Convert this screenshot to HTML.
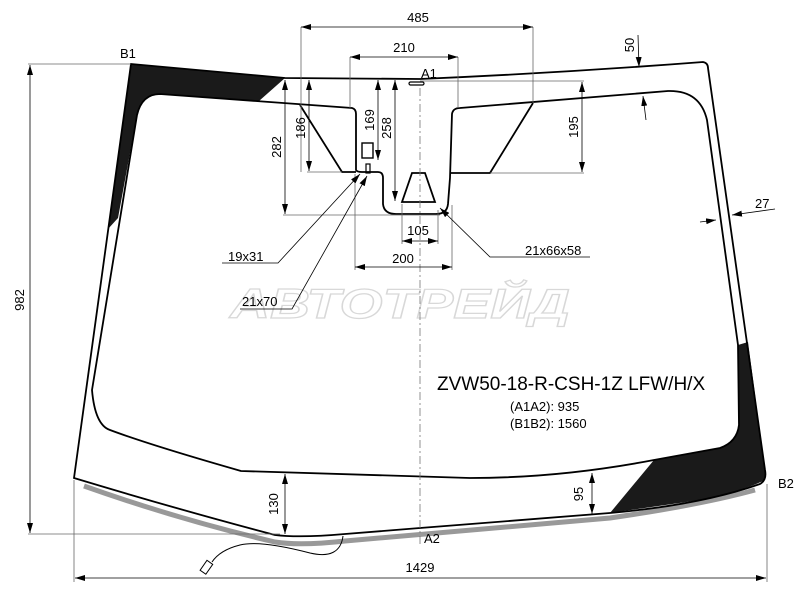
<!DOCTYPE html>
<html><head><meta charset="utf-8"><style>
html,body{margin:0;padding:0;background:#fff;}
svg{display:block;font-family:"Liberation Sans",Arial,sans-serif;}
</style></head><body>
<svg width="800" height="600" viewBox="0 0 800 600" xmlns="http://www.w3.org/2000/svg">
<defs>
<marker id="a" viewBox="0 0 10 6" refX="10" refY="3" markerWidth="10" markerHeight="6" orient="auto-start-reverse" markerUnits="userSpaceOnUse"><path d="M0,0 L10,3 L0,6 Z" fill="#000"/></marker>
</defs>
<rect width="800" height="600" fill="#fff"/>
<text x="400" y="318" text-anchor="middle" font-size="42" font-weight="bold" font-style="italic" fill="#fff" stroke="#d8d8d8" stroke-width="1.2" textLength="340" lengthAdjust="spacingAndGlyphs">АВТОТРЕЙД</text>
<path d="M84,486 Q180,520 275,542 Q300,546 345,541 L610,518 Q700,505 755,490" fill="none" stroke="#999" stroke-width="5"/>
<path d="M131,64 L285,78 L259,101 L160,94 Q142,94 137,115 L118,218 L108,229 Z" fill="#1a1a1a"/>
<path d="M748,342 L765,470 L765,480 Q740,492 700,500 L610,513 L654,460 L720,448 Q737,442 739,425 L738,345 Z" fill="#1a1a1a"/>
<g fill="none" stroke="#000" stroke-width="1.8">
<path d="M131,64 L285,78 L420,79 Q560,73 703,62 Q708,63 708,68 L765,470 Q767,480 760,484 Q700,505 610,513 L420,528 L345,534 Q300,538 275,535 Q180,510 74,478 Z"/>
<path d="M160,94 L352,108 Q356,109 356,114 L356,170 Q357,172 362,172 L378,172 Q383,172 383,178 L383,204 Q384,214 396,214 L436,214 Q447,214 448,204 L450,178 L452,114 Q453,108 460,108 L668,91 Q700,90 707,120 L738,345 L739,425 Q737,442 720,448 L654,460 Q560,478 470,478 L241,471 Q150,445 110,430 Q95,425 92,390 L137,115 Q142,94 160,94 Z"/>
<path d="M300,105 L342,172 L356,172"/>
<path d="M533,103 L490,173 L450,173"/>
<path d="M412,173 L425,173 L435,202 L402,202 Z"/>
<rect x="362" y="143" width="11" height="15" stroke-width="1.4"/>
<rect x="366" y="164" width="4" height="9" stroke-width="1.2"/>
<rect x="409" y="82" width="15" height="3" rx="1.5" stroke-width="1.2"/>
</g>
<line x1="420" y1="88" x2="420" y2="545" stroke="#777" stroke-width="0.8" stroke-dasharray="8,3,2,3"/>
<g fill="none" stroke="#666" stroke-width="0.8">
<line x1="301" y1="27" x2="301" y2="172"/><line x1="533" y1="27" x2="533" y2="103"/>
<line x1="350" y1="57" x2="350" y2="108"/><line x1="458" y1="57" x2="458" y2="108"/>
<line x1="283" y1="215" x2="440" y2="215"/>
<line x1="307" y1="172" x2="342" y2="172"/>
<line x1="420" y1="81" x2="584" y2="81"/><line x1="490" y1="173" x2="584" y2="173"/>
<line x1="355" y1="174" x2="355" y2="270"/><line x1="452" y1="205" x2="452" y2="270"/>
<line x1="402" y1="204" x2="402" y2="244"/><line x1="438" y1="210" x2="438" y2="244"/>
<line x1="28" y1="64" x2="131" y2="64"/><line x1="28" y1="534" x2="280" y2="534"/>
<line x1="74" y1="480" x2="74" y2="582"/><line x1="767" y1="484" x2="767" y2="582"/>
</g>
<g stroke="#000" stroke-width="0.8" fill="none">
<line x1="301" y1="27" x2="533" y2="27" marker-start="url(#a)" marker-end="url(#a)"/>
<line x1="350" y1="57" x2="458" y2="57" marker-start="url(#a)" marker-end="url(#a)"/>
<line x1="285" y1="80" x2="285" y2="214" marker-start="url(#a)" marker-end="url(#a)"/>
<line x1="309" y1="80" x2="309" y2="171" marker-start="url(#a)" marker-end="url(#a)"/>
<line x1="378" y1="80" x2="378" y2="160" marker-start="url(#a)" marker-end="url(#a)"/>
<line x1="395" y1="80" x2="395" y2="201" marker-start="url(#a)" marker-end="url(#a)"/>
<line x1="582" y1="82" x2="582" y2="172" marker-start="url(#a)" marker-end="url(#a)"/>
<line x1="402" y1="241" x2="438" y2="241" marker-start="url(#a)" marker-end="url(#a)"/>
<line x1="355" y1="267" x2="452" y2="267" marker-start="url(#a)" marker-end="url(#a)"/>
<line x1="30" y1="65" x2="30" y2="533" marker-start="url(#a)" marker-end="url(#a)"/>
<line x1="75" y1="578" x2="766" y2="578" marker-start="url(#a)" marker-end="url(#a)"/>
<line x1="285" y1="474" x2="285" y2="534" marker-start="url(#a)" marker-end="url(#a)"/>
<line x1="592" y1="473" x2="592" y2="514" marker-start="url(#a)" marker-end="url(#a)"/>
<line x1="638" y1="35" x2="639" y2="67" marker-end="url(#a)"/>
<line x1="646" y1="120" x2="643" y2="96" marker-end="url(#a)"/>
<line x1="700" y1="222" x2="716" y2="220" marker-end="url(#a)"/>
<line x1="775" y1="209" x2="732" y2="215" marker-end="url(#a)"/>
<polyline points="222,263 278,263 360,174" marker-end="url(#a)"/>
<polyline points="240,309 292,309 367,176" marker-end="url(#a)"/>
<polyline points="590,257 490,257 440,208" marker-end="url(#a)"/>
</g>
<path d="M343,536 Q340,560 310,553 Q260,540 240,545 Q220,550 212,562" fill="none" stroke="#000" stroke-width="1"/>
<rect x="203" y="561" width="7" height="12" transform="rotate(35 206 567)" fill="#fff" stroke="#000" stroke-width="1"/>
<g font-size="13" fill="#000">
<text x="418" y="22" text-anchor="middle">485</text>
<text x="404" y="52" text-anchor="middle">210</text>
<text x="120" y="58">B1</text>
<text x="421" y="78">A1</text>
<text x="778" y="488">B2</text>
<text x="424" y="543">A2</text>
<text x="418" y="235" text-anchor="middle">105</text>
<text x="403" y="263" text-anchor="middle">200</text>
<text x="228" y="261">19x31</text>
<text x="242" y="306">21x70</text>
<text x="525" y="255">21x66x58</text>
<text x="755" y="208">27</text>
<text x="420" y="572" text-anchor="middle">1429</text>
<text transform="translate(281,147) rotate(-90)" text-anchor="middle">282</text>
<text transform="translate(305,128) rotate(-90)" text-anchor="middle">186</text>
<text transform="translate(374,120) rotate(-90)" text-anchor="middle">169</text>
<text transform="translate(391,128) rotate(-90)" text-anchor="middle">258</text>
<text transform="translate(578,127) rotate(-90)" text-anchor="middle">195</text>
<text transform="translate(634,45) rotate(-90)" text-anchor="middle">50</text>
<text transform="translate(24,300) rotate(-90)" text-anchor="middle">982</text>
<text transform="translate(278,504) rotate(-90)" text-anchor="middle">130</text>
<text transform="translate(583,494) rotate(-90)" text-anchor="middle">95</text>
<text x="510" y="411">(A1A2): 935</text>
<text x="510" y="428">(B1B2): 1560</text>
</g>
<text x="437" y="390" font-size="19" fill="#000">ZVW50-18-R-CSH-1Z LFW/H/X</text>
</svg>
</body></html>
